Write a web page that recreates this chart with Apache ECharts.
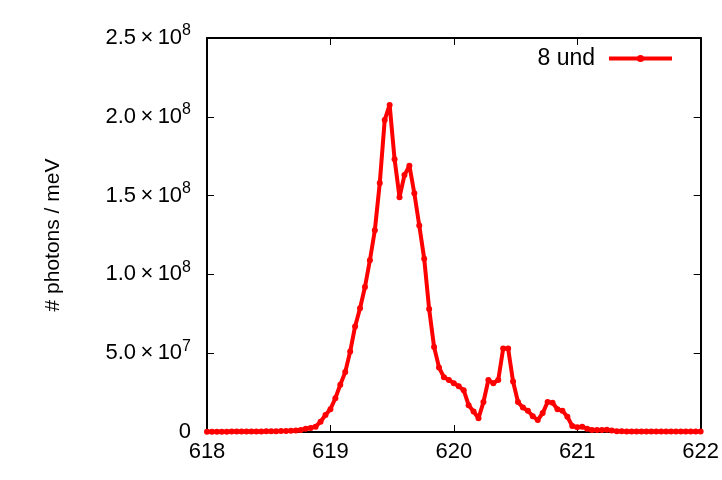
<!DOCTYPE html>
<html>
<head>
<meta charset="utf-8">
<script src="https://cdn.jsdelivr.net/npm/echarts@6/dist/echarts.min.js"></script>
<style>
  html, body { margin: 0; padding: 0; background: #fff; }
  #chart { width: 722px; height: 480px; }
</style>
</head>
<body>
<div id="chart"></div>
<script>
// energy (eV) sampled every 0.04
var energy = [
  618.00, 618.04, 618.08, 618.12, 618.16, 618.20, 618.24, 618.28, 618.32, 618.36,
  618.40, 618.44, 618.48, 618.52, 618.56, 618.60, 618.64, 618.68, 618.72, 618.76,
  618.80, 618.84, 618.88, 618.92, 618.96, 619.00, 619.04, 619.08, 619.12, 619.16,
  619.20, 619.24, 619.28, 619.32, 619.36, 619.40, 619.44, 619.48, 619.52, 619.56,
  619.60, 619.64, 619.68, 619.72, 619.76, 619.80, 619.84, 619.88, 619.92, 619.96,
  620.00, 620.04, 620.08, 620.12, 620.16, 620.20, 620.24, 620.28, 620.32, 620.36,
  620.40, 620.44, 620.48, 620.52, 620.56, 620.60, 620.64, 620.68, 620.72, 620.76,
  620.80, 620.84, 620.88, 620.92, 620.96, 621.00, 621.04, 621.08, 621.12, 621.16,
  621.20, 621.24, 621.28, 621.32, 621.36, 621.40, 621.44, 621.48, 621.52, 621.56,
  621.60, 621.64, 621.68, 621.72, 621.76, 621.80, 621.84, 621.88, 621.92, 621.96,
  622.00
];
// photons / meV, in units of 1e6
var photons8und = [
  0.2, 0.2, 0.2, 0.2, 0.2, 0.3, 0.3, 0.3, 0.3, 0.3,
  0.3, 0.3, 0.4, 0.4, 0.5, 0.6, 0.7, 0.8, 0.9, 1.3,
  2.0, 2.6, 3.4, 6.5, 10.8, 14.5, 21.4, 30, 38, 51,
  67, 78.5, 92, 109, 128, 158, 198, 207.5, 173, 149,
  163, 169, 151.5, 131, 110, 78, 54, 41, 34.7, 33,
  31, 29, 26.5, 17, 13, 8.7, 19, 33, 31, 33,
  53, 53, 32, 19, 15.5, 13.5, 10, 7.6, 12, 19,
  18.6, 14.4, 13.5, 9.7, 3.8, 3.0, 3.4, 2.1, 1.3, 1.3,
  1.3, 1.5, 1.0, 0.5, 0.4, 0.3, 0.3, 0.3, 0.3, 0.3,
  0.3, 0.3, 0.3, 0.3, 0.3, 0.3, 0.3, 0.3, 0.3, 0.3,
  0.3
];
var seriesName = '8 und';
var yTitle = '# photons / meV';

var chart = echarts.init(document.getElementById('chart'));

var points = energy.map(function (e, i) {
  return [e, photons8und[i] * 1e6];
});

function sciLabel(v) {
  if (v === 0) return '{m|0}';
  var exp = Math.floor(Math.log10(v) + 1e-9);
  var mant = (v / Math.pow(10, exp)).toFixed(1);
  return '{m|' + mant + '\u2009×\u200910}{e|' + exp + '}';
}

var font = 'Liberation Sans, Arial, sans-serif';
var tick = { show: true, inside: true, length: 7, lineStyle: { color: '#000', width: 1 } };
var line = { show: true, onZero: false, lineStyle: { color: '#000', width: 2 } };

chart.setOption({
  animation: false,
  backgroundColor: '#fff',
  grid: { left: 207, right: 21, top: 38, bottom: 48 },
  legend: {
    data: [seriesName],
    right: 43,
    top: 42,
    align: 'right',
    itemWidth: 63,
    itemHeight: 9,
    lineStyle: { width: 4 },
    textStyle: { fontFamily: font, fontSize: 23, color: '#000', padding: [0, 9, 0, 0] }
  },
  xAxis: [
    {
      type: 'value', min: 618, max: 622, interval: 1,
      axisLine: line, axisTick: tick, splitLine: { show: false },
      axisLabel: { color: '#000', fontFamily: font, fontSize: 22, margin: 9 }
    },
    {
      type: 'value', position: 'top', min: 618, max: 622, interval: 1,
      axisLine: line, axisTick: tick, splitLine: { show: false },
      axisLabel: { show: false }
    }
  ],
  yAxis: [
    {
      type: 'value', min: 0, max: 2.5e8, interval: 5e7,
      name: yTitle, nameLocation: 'middle', nameRotate: 90, nameGap: 143,
      nameTextStyle: { color: '#000', fontFamily: font, fontSize: 21 },
      axisLine: line, axisTick: tick, splitLine: { show: false },
      axisLabel: {
        margin: 16,
        formatter: sciLabel,
        rich: {
          m: { color: '#000', fontFamily: font, fontSize: 22 },
          e: { color: '#000', fontFamily: font, fontSize: 16, padding: [0, 0, 14, 0] }
        }
      }
    },
    {
      type: 'value', position: 'right', min: 0, max: 2.5e8, interval: 5e7,
      axisLine: line, axisTick: tick, splitLine: { show: false },
      axisLabel: { show: false }
    }
  ],
  series: [
    {
      name: seriesName,
      type: 'line',
      data: points,
      showAllSymbol: true,
      symbol: 'circle',
      symbolSize: 6,
      itemStyle: { color: '#f00' },
      lineStyle: { color: '#f00', width: 4 }
    }
  ]
});
</script>
</body>
</html>
